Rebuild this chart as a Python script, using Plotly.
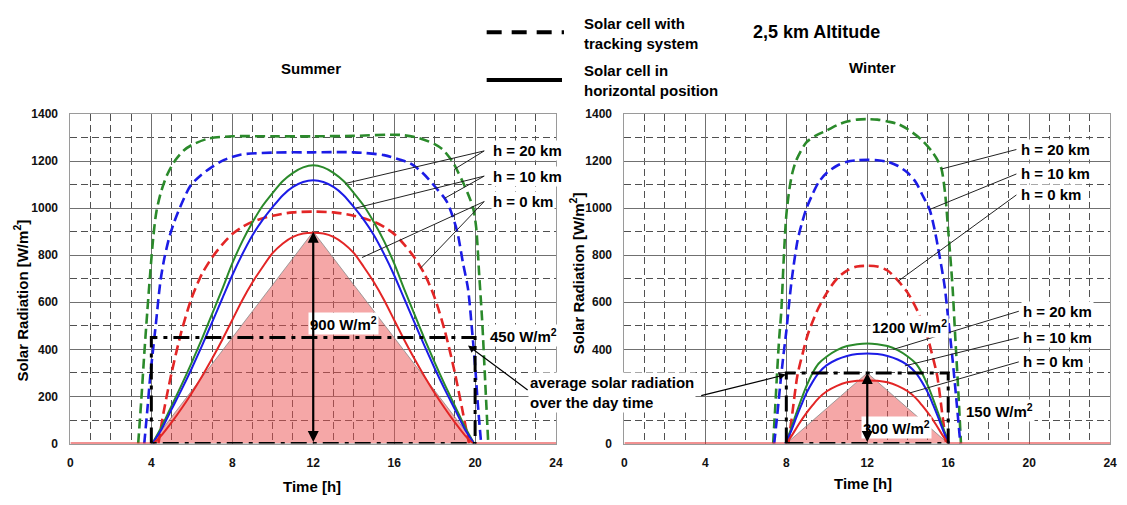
import plotly.graph_objects as go

FONT = "Liberation Sans, Arial, Helvetica, sans-serif"
GREEN = "#2b8a2b"
BLUE = "#1c1ce6"
RED = "#e32626"

# ---------------- Summer (left panel) ----------------
# tracking collector (dashed)
summer_track20_t = [3.35, 3.5, 3.65, 3.8, 3.95, 4.1, 4.25, 4.5, 4.8, 5.2, 5.6, 6.0, 6.8, 8.0, 10.0, 12.0,
                    14.0, 16.3, 17.2, 18.0, 18.4, 18.9, 19.1, 19.4, 19.65, 19.9, 20.05, 20.2, 20.35, 20.5, 20.65]
summer_track20 = [0, 180, 380, 560, 730, 880, 985, 1075, 1145, 1205, 1245, 1268, 1295, 1305, 1305, 1305,
                  1307, 1311, 1298, 1272, 1249, 1195, 1163, 1110, 1060, 1001, 920, 720, 520, 260, 0]

summer_track10_t = [3.65, 3.8, 3.95, 4.1, 4.25, 4.45, 4.65, 4.9, 5.15, 5.5, 5.95, 6.45, 6.95, 7.6, 8.4, 10.0, 12.0,
                    14.0, 15.5, 16.3, 16.8, 17.4, 18.1, 18.6, 19.1, 19.4, 19.65, 19.85, 20.0, 20.15, 20.3]
summer_track10 = [0, 140, 290, 410, 530, 690, 790, 880, 945, 1020, 1097, 1140, 1172, 1205, 1227, 1236, 1237,
                  1237, 1225, 1205, 1190, 1150, 1083, 1028, 905, 767, 657, 480, 330, 150, 0]

summer_track0_t = [4.35, 4.6, 5.0, 5.5, 6.0, 6.5, 7.0, 7.5, 8.0, 8.5, 9.0, 10.0, 11.0, 12.0,
                   13.0, 14.0, 15.0, 15.5, 16.0, 16.5, 17.0, 17.5, 18.0, 18.5, 19.0, 19.4, 19.7]
summer_track0 = [0, 130, 300, 480, 620, 720, 790, 845, 890, 920, 942, 968, 982, 985,
                 982, 968, 942, 920, 890, 845, 790, 720, 620, 480, 300, 130, 0]

# horizontal collector (solid)
summer_horiz_t = [4.05, 4.5, 5.0, 5.5, 6.0, 6.5, 7.0, 7.5, 8.0, 8.5, 9.0, 9.5, 10.0, 10.5, 11.0, 11.5, 12.0,
                  12.5, 13.0, 13.5, 14.0, 14.5, 15.0, 15.5, 16.0, 16.5, 17.0, 17.5, 18.0, 18.5, 19.0, 19.5, 19.95]
summer_horiz20 = [0, 70, 160, 250, 345, 445, 550, 655, 765, 860, 940, 1010, 1065, 1115, 1150, 1173, 1182,
                  1173, 1150, 1115, 1065, 1010, 940, 860, 765, 655, 550, 445, 345, 250, 160, 70, 0]
summer_horiz10 = [0, 60, 145, 230, 320, 415, 515, 615, 715, 805, 885, 950, 1005, 1055, 1090, 1111, 1118,
                  1111, 1090, 1055, 1005, 950, 885, 805, 715, 615, 515, 415, 320, 230, 145, 60, 0]
summer_horiz0_t = [4.1, 4.5, 5.0, 5.5, 6.0, 6.5, 7.0, 7.5, 8.0, 8.5, 9.0, 9.5, 10.0, 10.5, 11.0, 11.5, 12.0,
                   12.5, 13.0, 13.5, 14.0, 14.5, 15.0, 15.5, 16.0, 16.5, 17.0, 17.5, 18.0, 18.5, 19.0, 19.5, 19.9]
summer_horiz0 = [0, 35, 90, 150, 215, 285, 360, 440, 525, 610, 685, 750, 810, 850, 878, 892, 895,
                 892, 878, 850, 810, 750, 685, 610, 525, 440, 360, 285, 215, 150, 90, 35, 0]

summer_triangle_t = [4, 12, 20]
summer_triangle = [0, 900, 0]
summer_daylight = [4, 20]
summer_average = 450

# ---------------- Winter (right panel) ----------------
winter_track20_t = [7.35, 7.45, 7.55, 7.65, 7.75, 7.87, 8.0, 8.15, 8.3, 8.5, 9.0, 9.5, 10.0, 10.5, 11.0, 11.5, 12.0,
                    12.5, 13.0, 13.5, 14.0, 14.7, 15.2, 15.5, 15.67, 15.85, 16.0, 16.1, 16.22, 16.35, 16.5, 16.63]
winter_track20 = [0, 150, 310, 450, 560, 780, 970, 1080, 1150, 1205, 1280, 1310, 1330, 1352, 1368, 1376, 1378,
                  1376, 1368, 1358, 1335, 1289, 1240, 1200, 1166, 1060, 905, 800, 657, 450, 220, 0]

winter_track10_t = [7.4, 7.55, 7.7, 7.85, 8.0, 8.25, 8.55, 8.75, 9.0, 9.3, 9.6, 10.0, 10.5, 11.0, 11.5, 12.0,
                    12.5, 13.0, 13.5, 14.0, 14.4, 14.7, 15.08, 15.3, 15.49, 15.82, 16.0, 16.2, 16.4, 16.6]
winter_track10 = [0, 120, 250, 370, 477, 684, 860, 930, 1000, 1060, 1110, 1150, 1180, 1197, 1203, 1205,
                  1203, 1197, 1180, 1150, 1110, 1060, 994, 920, 836, 670, 530, 370, 190, 0]

winter_track0_t = [8.1, 8.3, 8.55, 8.8, 9.05, 9.5, 10.0, 10.5, 11.0, 11.5, 12.0,
                   12.5, 13.0, 13.45, 14.0, 14.5, 14.95, 15.2, 15.45, 15.7, 15.9]
winter_track0 = [0, 130, 290, 380, 460, 560, 640, 700, 735, 752, 755,
                 752, 735, 698, 640, 560, 460, 380, 290, 130, 0]

winter_horiz_t = [7.95, 8.2, 8.5, 8.75, 9.0, 9.3, 9.6, 10.0, 10.5, 11.0, 11.5, 12.0,
                  12.5, 13.0, 13.5, 14.0, 14.4, 14.7, 15.0, 15.25, 15.5, 15.8, 16.05]
winter_horiz20 = [0, 55, 130, 190, 245, 300, 340, 370, 397, 414, 422, 425,
                  422, 414, 397, 370, 340, 300, 245, 190, 130, 55, 0]
winter_horiz10 = [0, 45, 112, 165, 215, 262, 300, 333, 357, 372, 380, 382,
                  380, 372, 357, 333, 300, 262, 215, 165, 112, 45, 0]
winter_horiz0_t = [8.0, 8.3, 8.6, 9.0, 9.3, 9.6, 10.0, 10.5, 11.0, 11.5, 12.0,
                   12.5, 13.0, 13.5, 14.0, 14.4, 14.7, 15.0, 15.4, 15.7, 16.0]
winter_horiz0 = [0, 38, 80, 130, 163, 193, 222, 245, 260, 267, 268,
                 267, 260, 245, 222, 193, 163, 130, 80, 38, 0]

winter_triangle_t = [8, 12, 16]
winter_triangle = [0, 300, 0]
winter_daylight = [8, 16]
winter_average = 300

x_ticks = [0, 4, 8, 12, 16, 20, 24]
y_ticks = [0, 200, 400, 600, 800, 1000, 1200, 1400]
# the caption between the panels covers the right panel's "200" label
y_ticktext_left = [str(v) for v in y_ticks]
y_ticktext_right = ["" if v == 200 else str(v) for v in y_ticks]

altitude_labels = ["h = 20 km", "h = 10 km", "h = 0 km"]

fig = go.Figure()


def add_line(t, v, color, dash, width, xa, ya, shape="spline"):
    fig.add_trace(go.Scatter(
        x=t, y=v, mode="lines", xaxis=xa, yaxis=ya, hoverinfo="skip", showlegend=False,
        line=dict(color=color, width=width, dash=dash, shape=shape, smoothing=0.8)))


def add_panel(xa, ya, tri_t, tri_v, tracks, horiz, daylight, average):
    # shaded triangular day profile
    fig.add_trace(go.Scatter(
        x=tri_t + [tri_t[0]], y=tri_v + [tri_v[0]], mode="lines", fill="toself",
        fillcolor="rgba(236,80,80,0.5)", line=dict(color="#8a8a8a", width=0.8),
        xaxis=xa, yaxis=ya, hoverinfo="skip", showlegend=False))
    for t, v, c in tracks:
        add_line(t, v, c, "10px,5px", 2.6, xa, ya)
    # night baseline
    add_line([0, daylight[0]], [0, 0], RED, "solid", 2, xa, ya, shape="linear")
    add_line([daylight[1], 24], [0, 0], RED, "solid", 2, xa, ya, shape="linear")
    for t, v, c in horiz:
        add_line(t, v, c, "solid", 2, xa, ya)
    # daily average rectangle
    fig.add_trace(go.Scatter(
        x=[daylight[0], daylight[0], daylight[1], daylight[1], daylight[0]],
        y=[0, average, average, 0, 0], mode="lines",
        line=dict(color="black", width=3, dash="16px,6px,4px,6px"),
        xaxis=xa, yaxis=ya, hoverinfo="skip", showlegend=False))


add_panel("x", "y", summer_triangle_t, summer_triangle,
          [(summer_track20_t, summer_track20, GREEN),
           (summer_track10_t, summer_track10, BLUE),
           (summer_track0_t, summer_track0, RED)],
          [(summer_horiz_t, summer_horiz20, GREEN),
           (summer_horiz_t, summer_horiz10, BLUE),
           (summer_horiz0_t, summer_horiz0, RED)],
          summer_daylight, summer_average)

add_panel("x2", "y2", winter_triangle_t, winter_triangle,
          [(winter_track20_t, winter_track20, GREEN),
           (winter_track10_t, winter_track10, BLUE),
           (winter_track0_t, winter_track0, RED)],
          [(winter_horiz_t, winter_horiz20, GREEN),
           (winter_horiz_t, winter_horiz10, BLUE),
           (winter_horiz0_t, winter_horiz0, RED)],
          winter_daylight, winter_average)

W, H = 1127, 505
y_dom = [56 / H, 395 / H]
tickfont = dict(family=FONT, size=12, color="#111", weight="bold")


def xaxis(domain, anchor):
    return dict(domain=domain, anchor=anchor, range=[0, 24], tickmode="array", tickvals=x_ticks,
                showgrid=True, gridcolor="#707070", gridwidth=1, zeroline=False,
                minor=dict(dtick=1, tick0=0, showgrid=True, gridcolor="#505050", griddash="7px,4px", gridwidth=1),
                showline=True, linecolor="#9a9a9a", linewidth=1, mirror=True, ticks="",
                tickfont=tickfont, ticklabelstandoff=8, fixedrange=True)


def yaxis(anchor, ticktext):
    return dict(domain=y_dom, anchor=anchor, range=[0, 1400], tickmode="array", tickvals=y_ticks,
                ticktext=ticktext,
                showgrid=True, gridcolor="#707070", gridwidth=1, zeroline=False,
                minor=dict(dtick=100, tick0=0, showgrid=True, gridcolor="#505050", griddash="7px,4px", gridwidth=1),
                showline=True, linecolor="#9a9a9a", linewidth=1, mirror=True, ticks="",
                tickfont=tickfont, ticklabelstandoff=9, fixedrange=True)


fig.update_layout(
    width=W, height=H, margin=dict(l=0, r=0, t=0, b=0),
    paper_bgcolor="white", plot_bgcolor="white",
    font=dict(family=FONT, color="black"),
    xaxis=xaxis([68 / W, 558 / W], "y"), yaxis=yaxis("x", y_ticktext_left),
    xaxis2=xaxis([627 / W, 1117 / W], "y2"), yaxis2=yaxis("x2", y_ticktext_right),
)

ann = []


def text(x, y, s, size=15, xref="paper", yref="paper", bg=None, align="center", xanchor="center", angle=0):
    if xref == "paper":
        x = x / W
    if yref == "paper":
        y = 1 - y / H
    d = dict(x=x, y=y, xref=xref, yref=yref, text=s, showarrow=False, align=align,
             xanchor=xanchor, yanchor="middle", textangle=angle,
             font=dict(family=FONT, size=size, color="black", weight="bold"))
    if bg:
        d.update(bgcolor=bg, borderpad=1)
    ann.append(d)


# headings and legend text
text(311, 63, "Summer")
text(877, 62, "Winter")
text(821, 26, "2,5 km Altitude", size=18)
text(584, 27, "Solar cell with<br>tracking system", align="left", xanchor="left")
text(584, 76, "Solar cell in<br>horizontal position", align="left", xanchor="left")

# axis titles
text(312, 493, "Time [h]")
text(868, 490, "Time [h]")
text(18, 302, "Solar Radiation [W/m<sup>2</sup>]", angle=-90)
text(579, 274, "Solar Radiation [W/m<sup>2</sup>]", angle=-90)

# value labels
text(13.5, 512, "900 W/m<sup>2</sup>", xref="x", yref="y", bg="white")
text(22.4, 458, "450 W/m<sup>2</sup>", xref="x", yref="y", bg="white")
text(13.45, 70, "300 W/m<sup>2</sup>", xref="x2", yref="y2", bg="white")
text(18.55, 140, "150 W/m<sup>2</sup>", xref="x2", yref="y2", bg="white")
text(14.1, 496, "1200 W/m<sup>2</sup>", xref="x2", yref="y2", bg="white")
text(530, 396, "average solar radiation<br>over the day time", align="left", xanchor="left", bg="white")

# altitude labels (left edge of each label box)
for xr, yr, xx, ys in [("x", "y", 20.8, [1243, 1136, 1028]),
                       ("x2", "y2", 19.5, [1249, 1145, 1056]),
                       ("x2", "y2", 19.62, [562, 450, 347])]:
    for yy, lab in zip(ys, altitude_labels):
        ann.append(dict(x=xx, y=yy, xref=xr, yref=yr, text=lab, showarrow=False,
                        xanchor="left", yanchor="middle", bgcolor="white", borderpad=1,
                        font=dict(family=FONT, size=15, color="black", weight="bold")))

# vertical double arrows for the peak of the triangle
for xr, yr, peak in [("x", "y", summer_triangle[1]), ("x2", "y2", winter_triangle[1])]:
    ann.append(dict(x=12, y=peak, ax=12, ay=0, xref=xr, yref=yr, axref=xr, ayref=yr, text="",
                    showarrow=True, arrowhead=2, startarrowhead=2, arrowside="end+start",
                    arrowwidth=2.2, arrowsize=1, arrowcolor="black", standoff=0, startstandoff=0))

# arrows from the "average" caption
ann.append(dict(x=19.65, y=416, ax=22.67, ay=223, xref="x", yref="y", axref="x", ayref="y", text="",
                showarrow=True, arrowhead=2, arrowwidth=1.2, arrowsize=1.2, arrowcolor="black"))
ann.append(dict(x=7.98, y=293, ax=3.72, ay=202, xref="x2", yref="y2", axref="x2", ayref="y2", text="",
                showarrow=True, arrowhead=2, arrowwidth=1.2, arrowsize=1.2, arrowcolor="black"))

shapes = []
# leader lines from altitude labels to curves
leaders = [
    ("x", "y", 20.45, 1243, 18.99, 1166), ("x", "y", 20.45, 1243, 13.6, 1105),
    ("x", "y", 20.45, 1136, 18.5, 1042), ("x", "y", 20.45, 1136, 14.09, 1000),
    ("x", "y", 20.45, 1028, 17.3, 745), ("x", "y", 20.45, 1028, 14.41, 790),
    ("x2", "y2", 19.37, 1249, 15.66, 1166),
    ("x2", "y2", 19.37, 1145, 15.08, 994),
    ("x2", "y2", 19.37, 1056, 13.53, 690),
    ("x2", "y2", 19.49, 562, 13.29, 400),
    ("x2", "y2", 19.49, 450, 13.86, 330),
    ("x2", "y2", 19.49, 347, 14.1, 215),
]
for xr, yr, x0, y0, x1, y1 in leaders:
    shapes.append(dict(type="line", xref=xr, yref=yr, x0=x0, y0=y0, x1=x1, y1=y1,
                       line=dict(color="#222", width=1)))

# legend samples
shapes.append(dict(type="line", xref="paper", yref="paper", x0=488 / W, x1=566 / W,
                   y0=1 - 26 / H, y1=1 - 26 / H, line=dict(color="black", width=4, dash="15px,10px")))
shapes.append(dict(type="line", xref="paper", yref="paper", x0=488 / W, x1=564 / W,
                   y0=1 - 75 / H, y1=1 - 75 / H, line=dict(color="black", width=4)))

fig.update_layout(annotations=ann, shapes=shapes)
fig.write_html("out.html")
